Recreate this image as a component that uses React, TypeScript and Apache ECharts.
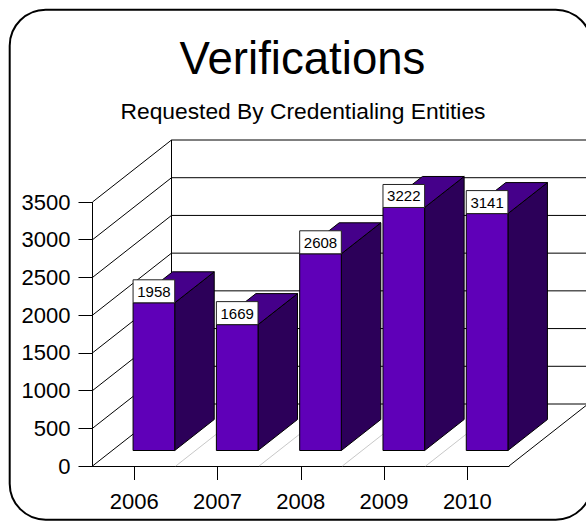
import React, { useEffect, useRef } from "react";
import * as echarts from "echarts";

const years = ["2006", "2007", "2008", "2009", "2010"];
const verifications = [1958, 1669, 2608, 3222, 3141];
const valueTicks = [0, 500, 1000, 1500, 2000, 2500, 3000, 3500];

const FONT = "Liberation Sans";
const DEPTH_X = 79;
const DEPTH_Y = -62;

const line = (x1: number, y1: number, x2: number, y2: number, stroke = "#000") => ({
  type: "line",
  shape: { x1, y1, x2, y2 },
  style: { stroke, lineWidth: 1, fill: "none" },
});

// Left wall and back wall rules for one value tick
function renderWall(params: any, api: any) {
  const y = api.coord([0, api.value(1)])[1];
  const left = params.coordSys.x;
  const right = left + params.coordSys.width + DEPTH_X;
  const isTop = api.value(1) === valueTicks[valueTicks.length - 1];
  const children: any[] = [
    line(left, y, left + DEPTH_X, y + DEPTH_Y),
    line(left + DEPTH_X, y + DEPTH_Y, right, y + DEPTH_Y),
  ];
  if (isTop) {
    const floorY = api.coord([0, 0])[1];
    children.push(line(left, y, left, floorY));
    children.push(line(left + DEPTH_X, y + DEPTH_Y, left + DEPTH_X, floorY + DEPTH_Y));
  }
  return { type: "group", children };
}

// Floor separator on the right edge of a category band
function renderFloor(params: any, api: any) {
  const i = api.value(0);
  const [cx, y] = api.coord([i, 0]);
  const band = api.size([1, 0])[0];
  const x = cx + band / 2;
  const stroke = i === years.length - 1 ? "#000" : "#c8c8c8";
  return line(x, y, x + DEPTH_X, y + DEPTH_Y, stroke);
}

// Extruded column with its value box resting on the front face
function renderColumn(params: any, api: any) {
  const i = api.value(0);
  const value = api.value(1);
  const [cx, topY] = api.coord([i, value]);
  const baseY = api.coord([i, 0])[1];
  const band = api.size([1, 0])[0];
  const w = band / 2;
  const x0 = cx + DEPTH_X / 4 - w / 2;
  const x1 = x0 + w;
  const yB = baseY + DEPTH_Y / 4;
  const yT = topY + DEPTH_Y / 4;
  const dx = DEPTH_X / 2;
  const dy = DEPTH_Y / 2;
  const boxH = 23;
  const edge = { stroke: "#000", lineWidth: 1 };
  return {
    type: "group",
    children: [
      {
        type: "polygon",
        shape: { points: [[x1, yB], [x1 + dx, yB + dy], [x1 + dx, yT + dy], [x1, yT]] },
        style: { fill: "#2c0059", ...edge },
      },
      {
        type: "polygon",
        shape: { points: [[x0, yT], [x1, yT], [x1 + dx, yT + dy], [x0 + dx, yT + dy]] },
        style: { fill: "#45008a", ...edge },
      },
      {
        type: "rect",
        shape: { x: x0, y: yT, width: w, height: yB - yT },
        style: { fill: "#5f00b8", ...edge },
      },
      {
        type: "rect",
        shape: { x: x0, y: yT - boxH, width: w, height: boxH },
        style: { fill: "#fff", stroke: "#222", lineWidth: 1 },
      },
      {
        type: "text",
        style: {
          x: x0 + w / 2,
          y: yT - boxH / 2,
          text: String(value),
          fill: "#000",
          font: `15px "${FONT}"`,
          align: "center",
          verticalAlign: "middle",
        },
      },
    ],
  };
}

export default function App() {
  const ref = useRef<HTMLDivElement>(null);

  useEffect(() => {
    document.body.style.margin = "0";
    const chart = echarts.init(ref.current!, undefined, { renderer: "svg" });
    chart.setOption({
      animation: false,
      backgroundColor: "#fff",
      title: [
        {
          text: "Verifications",
          left: 297.5,
          top: 30,
          textAlign: "center",
          textStyle: { fontFamily: FONT, fontSize: 45.6, fontWeight: "normal", color: "#000" },
        },
        {
          text: "Requested By Credentialing Entities",
          left: 298,
          top: 94,
          textAlign: "center",
          textStyle: { fontFamily: FONT, fontSize: 22.8, fontWeight: "normal", color: "#000" },
        },
      ],
      graphic: [
        {
          type: "rect",
          silent: true,
          z: -1,
          shape: { x: 9.7, y: 9.7, width: 582, height: 510, r: 36 },
          style: { fill: "none", stroke: "#000", lineWidth: 2 },
        },
      ],
      grid: { left: 92.5, top: 202, width: 416.5, height: 264, containLabel: false },
      xAxis: {
        type: "category",
        data: years,
        boundaryGap: true,
        axisLine: { show: true, lineStyle: { color: "#000", width: 1 } },
        axisTick: { show: true, alignWithLabel: true, length: 14, lineStyle: { color: "#000" } },
        axisLabel: { fontFamily: FONT, fontSize: 22, color: "#000", margin: 24 },
        splitLine: { show: false },
      },
      yAxis: {
        type: "value",
        min: 0,
        max: 3500,
        interval: 500,
        axisLine: { show: false },
        axisTick: { show: true, length: 14, lineStyle: { color: "#000" } },
        axisLabel: {
          fontFamily: FONT,
          fontSize: 22,
          color: "#000",
          margin: 22,
          formatter: (v: number) => String(v),
        },
        splitLine: { show: false },
      },
      series: [
        {
          type: "custom",
          z: 2,
          silent: true,
          renderItem: renderWall,
          data: valueTicks.map((v) => [0, v]),
          encode: { x: 0, y: 1 },
        },
        {
          type: "custom",
          z: 2,
          silent: true,
          renderItem: renderFloor,
          data: years.map((_, i) => [i, 0]),
          encode: { x: 0, y: 1 },
        },
        {
          type: "custom",
          z: 3,
          silent: true,
          renderItem: renderColumn,
          data: verifications.map((v, i) => [i, v]),
          encode: { x: 0, y: 1 },
        },
      ],
    });
    return () => chart.dispose();
  }, []);

  return <div ref={ref} style={{ width: 586, height: 521, position: "fixed", left: 0, top: 0 }} />;
}
